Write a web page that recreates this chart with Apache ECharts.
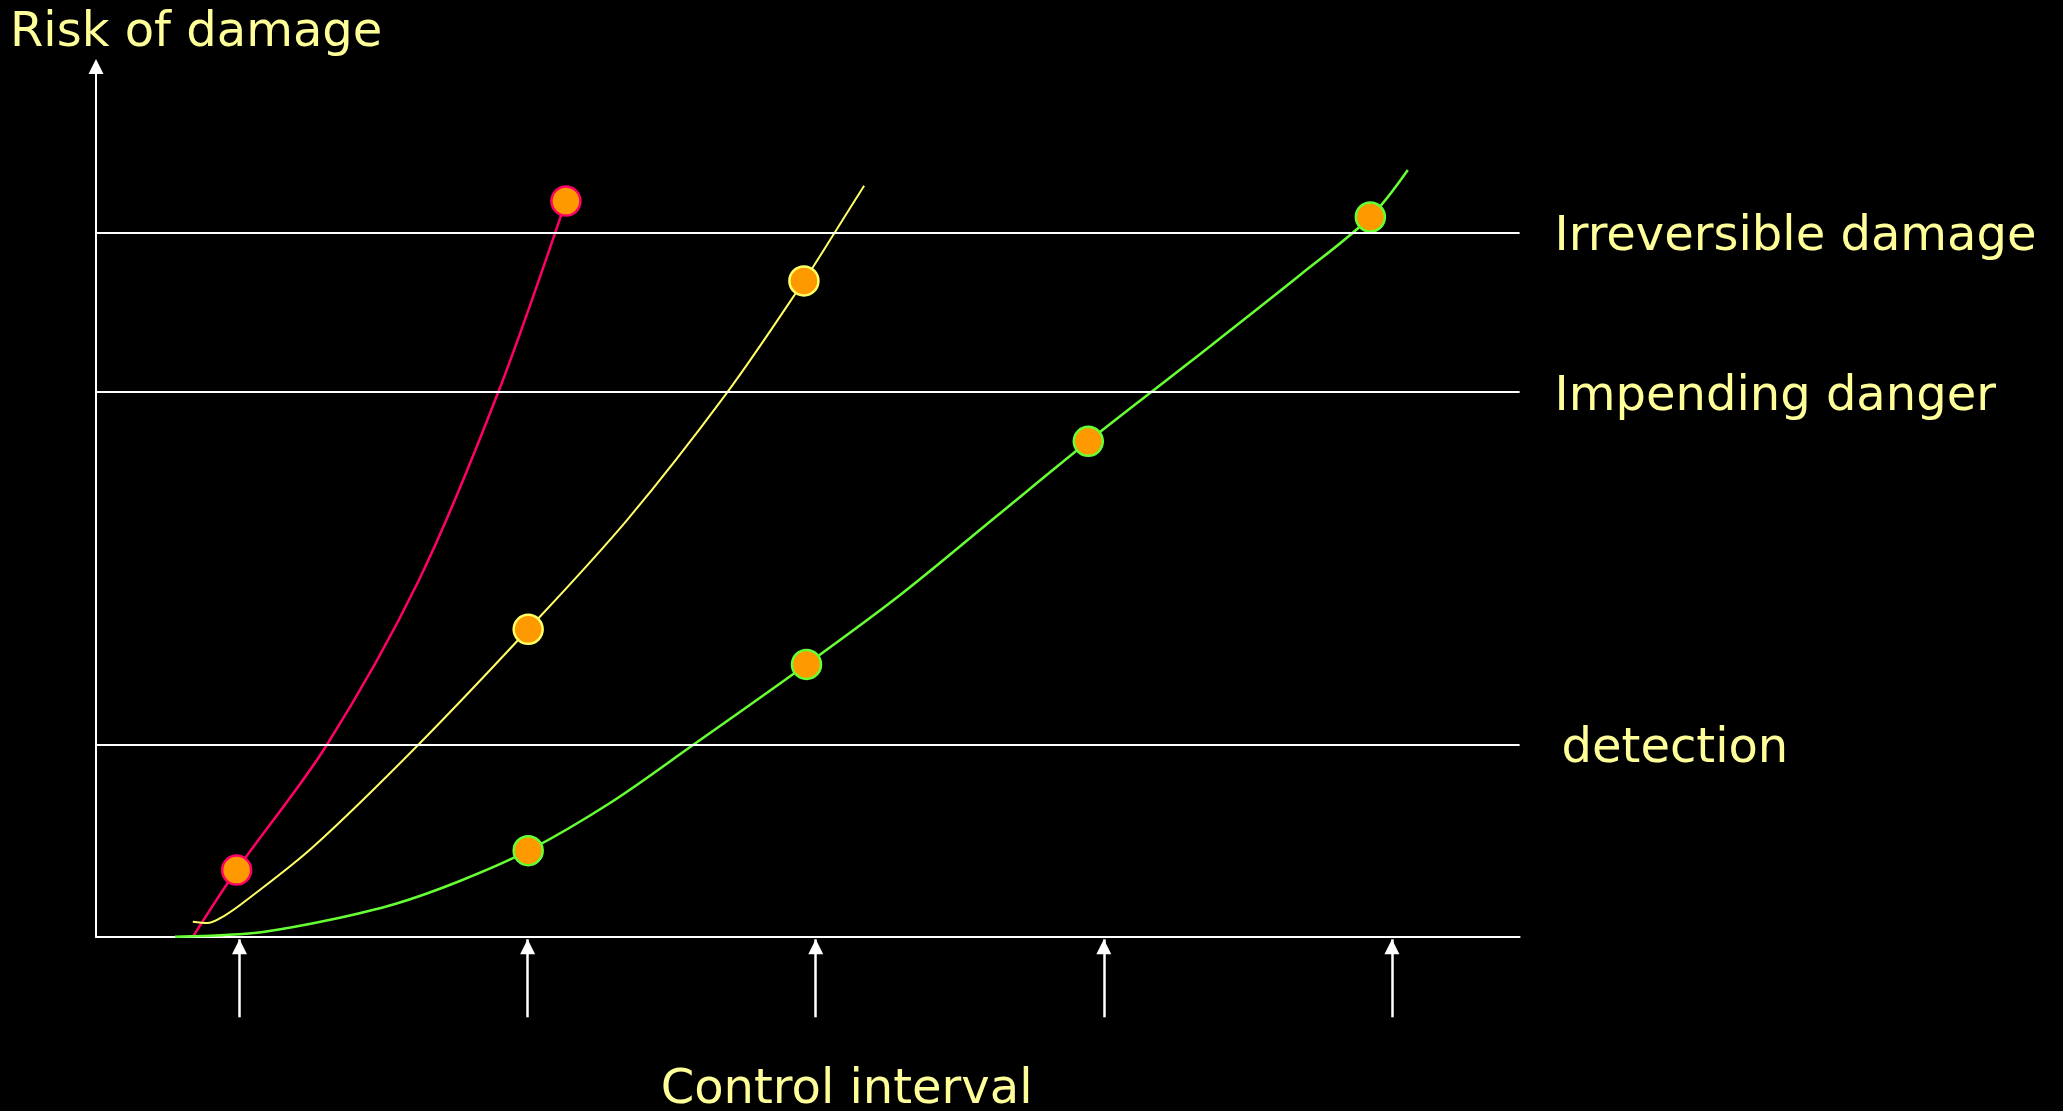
<!DOCTYPE html>
<html>
<head>
<meta charset="utf-8">
<script src="https://cdn.jsdelivr.net/npm/echarts@6/dist/echarts.min.js"></script>
<style>
html,body{margin:0;padding:0;background:#000;}
#c{width:2063px;height:1111px;}
</style>
</head>
<body>
<div id="c"></div>
<script>
// ---- data (x: control intervals, y: risk level) ----
const thresholdNames = ['Irreversible damage', 'Impending danger', 'detection'];
const thresholdValues = [80.2, 62.07, 21.89];
const controlTicks = [1, 2, 3, 4, 5];

const redCurve = [[0.838, 0], [0.990, 7.61], [1.303, 21.86], [1.623, 40.66], [1.897, 61.96], [2.133, 83.84]];
const redMarkers = [[0.990, 7.61], [2.133, 83.84]];

const yellowCurve = [[0.838, 1.72], [0.887, 1.57], [0.950, 2.45], [1.025, 4.19], [1.255, 10.23], [1.620, 21.86], [2.002, 35.04],
  [2.345, 47.49], [2.691, 61.96], [2.959, 74.73], [3.065, 80.20], [3.168, 85.59]];
const yellowMarkers = [[2.002, 35.04], [2.959, 74.73]];

const greenCurve = [[0.776, 0], [0.950, 0.20], [1.082, 0.55], [1.311, 1.91], [1.540, 3.74], [1.765, 6.36], [2.002, 9.81], [2.286, 15.25],
  [2.574, 21.86], [2.968, 31.04], [3.293, 38.95], [3.620, 47.72], [3.946, 56.46], [4.302, 65.58], [4.681, 75.41],
  [4.925, 82.02], [5.055, 87.37]];
const greenMarkers = [[2.002, 9.81], [2.968, 31.04], [3.946, 56.46], [4.925, 82.02]];

const yTitle = 'Risk of damage';
const xTitle = 'Control interval';

// ---- styles ----
const FONT = 'DejaVu Sans';
const TXT = '#FFFF99';
const RED = '#FF0066', YEL = '#FFFF66', GRN = '#66FF33', FILL = '#FF9900';

const chart = echarts.init(document.getElementById('c'), null, {renderer: 'canvas', width: 2063, height: 1111});

function curve(data, color, width) {
  return {type: 'line', xAxisIndex: 0, yAxisIndex: 0, data: data, showSymbol: false, symbol: 'none',
    smooth: 0.33, z: 3, silent: true, lineStyle: {color: color, width: width}};
}
function markers(data, color) {
  return {type: 'scatter', xAxisIndex: 0, yAxisIndex: 0, data: data, symbol: 'circle', symbolSize: 29, z: 4, silent: true,
    itemStyle: {color: FILL, borderColor: color, borderWidth: 2.5, opacity: 1}};
}

const option = {
  backgroundColor: '#000',
  animation: false,
  grid: [
    {left: 96, right: 543.4, top: 66.5, bottom: 174.2},
    {left: 96, right: 543.4, top: 939.3, bottom: 93.7}
  ],
  xAxis: [
    {type: 'value', gridIndex: 0, min: 0.502, max: 5.443,
      axisLine: {show: true, onZero: false, lineStyle: {color: '#fff', width: 2}},
      axisTick: {show: false}, axisLabel: {show: false}, splitLine: {show: false}},
    {type: 'value', gridIndex: 1, min: 0.502, max: 5.443, show: false}
  ],
  yAxis: [
    {type: 'value', gridIndex: 0, min: 0, max: 99.17,
      axisLine: {show: true, onZero: false, lineStyle: {color: '#fff', width: 2}, symbol: ['none', 'triangle'], symbolSize: [15, 15]},
      axisTick: {show: false}, axisLabel: {show: false}, splitLine: {show: false}},
    {type: 'value', gridIndex: 1, min: 0, max: 1, show: false}
  ],
  graphic: [
    {type: 'text', x: 10, y: 34, silent: true,
      style: {text: yTitle, fill: TXT, font: '48px "DejaVu Sans"', align: 'left', verticalAlign: 'middle', textAlign: 'left', textVerticalAlign: 'middle'}},
    {type: 'text', x: 846.6, y: 1091, silent: true,
      style: {text: xTitle, fill: TXT, font: '48px "DejaVu Sans"', align: 'center', verticalAlign: 'middle', textAlign: 'center', textVerticalAlign: 'middle'}}
  ],
  series: [
    {type: 'line', name: 'thresholds', xAxisIndex: 0, yAxisIndex: 0, data: [], z: 1, silent: true,
      markLine: {silent: true, symbol: ['none', 'none'], animation: false,
        lineStyle: {color: '#fff', width: 2, type: 'solid'},
        label: {show: true, position: 'end', formatter: '{t|{b}}', distance: 35,
          rich: {t: {color: TXT, fontSize: 48, fontFamily: FONT, padding: [10, 0, 0, 0]}}},
        emphasis: {disabled: true},
        data: thresholdNames.map((n, i) => ({name: n, yAxis: thresholdValues[i], label: {distance: i === 2 ? 42 : 35}}))
      }},
    curve(redCurve, RED, 2.5),
    curve(yellowCurve, YEL, 2),
    curve(greenCurve, GRN, 2.5),
    markers(redMarkers, RED),
    markers(yellowMarkers, YEL),
    markers(greenMarkers, GRN),
    {type: 'scatter', xAxisIndex: 1, yAxisIndex: 1, silent: true, z: 3,
      data: controlTicks.map(x => [x, 1]), symbol: 'triangle', symbolSize: [15, 15], symbolOffset: [0, 7.5],
      itemStyle: {color: '#fff', opacity: 1},
      markLine: {silent: true, symbol: ['none', 'none'], animation: false,
        lineStyle: {color: '#fff', width: 2.5, type: 'solid'}, label: {show: false}, emphasis: {disabled: true},
        data: controlTicks.map(x => [{coord: [x, 0]}, {coord: [x, 1]}])}}
  ]
};
chart.setOption(option);
</script>
</body>
</html>
